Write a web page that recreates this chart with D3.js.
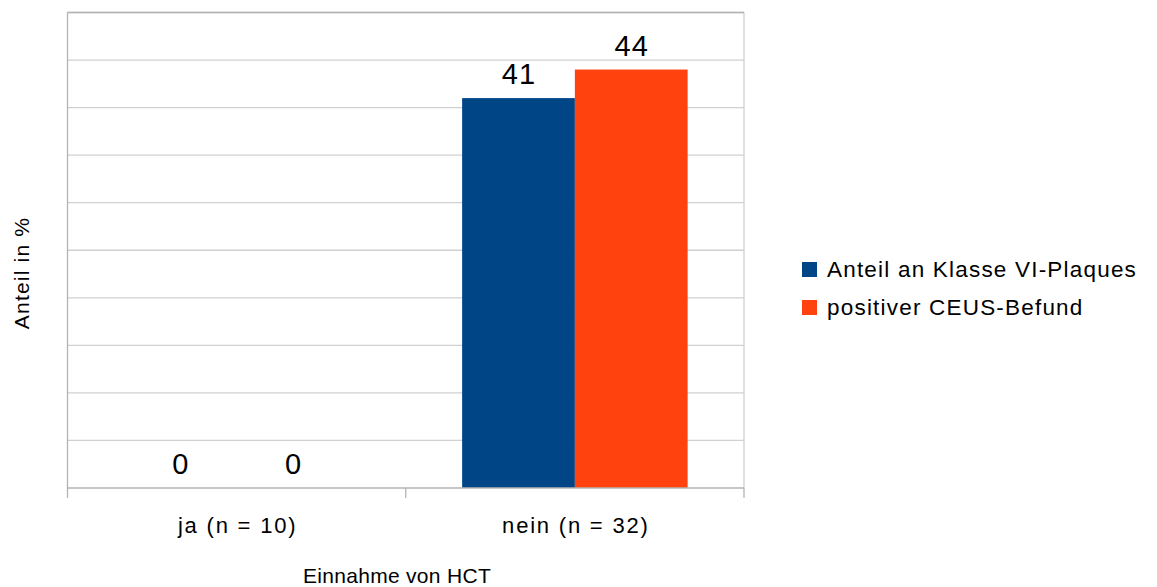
<!DOCTYPE html>
<html><head><meta charset="utf-8">
<script src="https://cdnjs.cloudflare.com/ajax/libs/d3/7.8.5/d3.min.js"></script>
<style>body{margin:0;background:#fff}svg{display:block;font-family:"Liberation Sans",Arial,sans-serif}</style>
</head><body><svg id="c" width="1157" height="587"></svg>
<script>
const categories = ["ja (n = 10)", "nein (n = 32)"];
const seriesNames = ["Anteil an Klasse VI-Plaques", "positiver CEUS-Befund"];
const seriesA = [0, 41];
const seriesB = [0, 44];
const yTicks = [0,5,10,15,20,25,30,35,40,45,50];
const colors = ["#004586", "#ff420e"];

const svg = d3.select("#c");
const L = 67.5, R = 744, T = 12.5, B = 488;
const x = d3.scaleBand().domain(categories).range([L, R]).paddingInner(0).paddingOuter(0);
const y = d3.scaleLinear().domain([0, 50]).range([B, T]);
const inner = d3.scaleBand().domain([0,1]).range([0, x.bandwidth()]).paddingOuter(0.5).paddingInner(0);

// gridlines
svg.append("g").selectAll("line").data(yTicks.filter(d=>d>0)).join("line")
  .attr("x1", L).attr("x2", R).attr("y1", d=>y(d)).attr("y2", d=>y(d))
  .attr("stroke", "#d0d0d0").attr("stroke-width", 1.3);
svg.append("line").attr("x1", R).attr("x2", R).attr("y1", T).attr("y2", B)
  .attr("stroke", "#d0d0d0").attr("stroke-width", 1.3);

const data = categories.map((c,i)=>({c, vals:[seriesA[i], seriesB[i]]}));
const g = svg.append("g");
data.forEach(d=>{
  d.vals.forEach((v,j)=>{
    g.append("rect").attr("x", x(d.c)+inner(j)).attr("width", inner.bandwidth())
      .attr("y", y(v)).attr("height", B - y(v)).attr("fill", colors[j]);
    g.append("text").attr("x", x(d.c)+inner(j)+inner.bandwidth()/2 + 0.5).attr("y", y(v)-14)
      .attr("text-anchor","middle").attr("font-size", 29).attr("letter-spacing", 1).attr("fill","#000").text(v);
  });
});

// axis lines and ticks
[L, L + x.bandwidth(), R].forEach(px=>{
  svg.append("line").attr("x1",px).attr("x2",px).attr("y1",B).attr("y2",B+10)
    .attr("stroke","#b3b3b3").attr("stroke-width",1.3);
});
svg.append("line").attr("x1",L).attr("x2",R).attr("y1",B).attr("y2",B).attr("stroke","#b3b3b3").attr("stroke-width",1.3);
svg.append("line").attr("x1",L).attr("x2",L).attr("y1",T).attr("y2",B).attr("stroke","#b3b3b3").attr("stroke-width",1.3);
svg.append("line").attr("x1",L).attr("x2",R).attr("y1",T).attr("y2",T).attr("stroke","#b3b3b3").attr("stroke-width",1.3);

svg.append("g").selectAll("text").data(categories).join("text")
  .attr("x", d=>x(d)+x.bandwidth()/2 + 1).attr("y", 533).attr("text-anchor","middle")
  .attr("font-size", 22).attr("letter-spacing", 1.8).text(d=>d);

svg.append("text").attr("x", 397).attr("y", 583).attr("text-anchor","middle").attr("font-size",21).attr("letter-spacing",0.3).text("Einnahme von HCT");
svg.append("text").attr("transform","translate(29,273) rotate(-90)").attr("text-anchor","middle").attr("font-size",21).attr("letter-spacing",1.2).text("Anteil in %");

// legend
const lg = svg.append("g");
seriesNames.forEach((n,i)=>{
  lg.append("rect").attr("x",802).attr("y",262+i*38).attr("width",15).attr("height",15).attr("fill",colors[i]);
  lg.append("text").attr("x",827).attr("y",277+i*38).attr("font-size",22.5).attr("letter-spacing",1.2).text(n);
});
</script></body></html>
